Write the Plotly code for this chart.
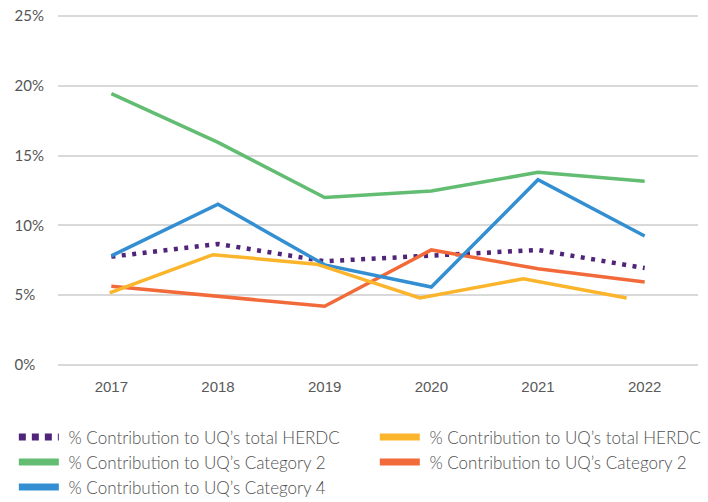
import plotly.graph_objects as go

years = ["2017", "2018", "2019", "2020", "2021", "2022"]
y_ticks = [0, 0.05, 0.10, 0.15, 0.20, 0.25]
y_tick_labels = ["0%\u2007", "5%\u2007", "10%", "15%", "20%", "25%"]

purple_total = [0.0776, 0.0867, 0.0743, 0.0786, 0.0824, 0.0694]
yellow_total = [0.0516, 0.0790, 0.0722, 0.0480, 0.0617, 0.0480]
green_cat2 = [0.1945, 0.1595, 0.1200, 0.1246, 0.1380, 0.1316]
orange_cat2 = [0.0563, 0.0492, 0.0420, 0.0824, 0.0689, 0.0594]
blue_cat4 = [0.0781, 0.1152, 0.0717, 0.0558, 0.1327, 0.0924]

label_total = "% Contribution to UQ\u2019s total HERDC"
label_cat2 = "% Contribution to UQ\u2019s Category 2"
label_cat4 = "% Contribution to UQ\u2019s Category 4"

PURPLE = "#4f2479"
YELLOW = "#fbb52c"
GREEN = "#62bd72"
ORANGE = "#f26a3a"
BLUE = "#338fd1"

series = [
    (purple_total, label_total, PURPLE, "x", "legend", True),
    (yellow_total, label_total, YELLOW, "x2", "legend2", False),
    (green_cat2, label_cat2, GREEN, "x", "legend", False),
    (orange_cat2, label_cat2, ORANGE, "x", "legend2", False),
    (blue_cat4, label_cat4, BLUE, "x", "legend", False),
]

fig = go.Figure()
for vals, name, color, xa, leg, dotted in series:
    fig.add_trace(go.Scatter(
        x=years, y=vals, name=name, mode="lines", xaxis=xa, showlegend=False,
        line=dict(color=color, width=4.5 if dotted else 3.5,
                  dash="4px,6.5px" if dotted else "solid")))
    # legend entry with a thicker key line
    fig.add_trace(go.Scatter(
        x=[None], y=[None], name="\u00a0" + name, mode="lines", legend=leg,
        line=dict(color=color, width=7, dash="7px,6px" if dotted else "solid")))

legend_font = dict(family="Lato", size=17, color="#505050", weight=300)

fig.update_layout(
    width=708, height=502,
    margin=dict(l=58, r=10, t=15, b=136, autoexpand=False),
    paper_bgcolor="white", plot_bgcolor="white",
    font=dict(family="Lato", color="#555555", size=15),
    xaxis=dict(type="category", categoryorder="array", categoryarray=years,
               range=[-0.5, 5.5], showgrid=False, zeroline=False,
               showline=False, ticks="", ticklabelstandoff=10,
               tickfont=dict(family="Liberation Sans", size=15, color="#595959")),
    xaxis2=dict(type="category", categoryorder="array", categoryarray=years,
                overlaying="x", range=[-0.5, 5.69], visible=False),
    yaxis=dict(range=[-0.0008, 0.2508], tickvals=y_ticks, ticktext=y_tick_labels,
               showgrid=True, gridcolor="#d9d9d9", gridwidth=2,
               zeroline=False, showline=False, ticks="",
               ticklabelstandoff=13,
               tickfont=dict(family="Lato", size=15, color="#555555")),
    showlegend=True,
    legend=dict(orientation="v", x=-0.069, xanchor="left", y=-0.152, yanchor="top",
                traceorder="normal", font=legend_font, itemwidth=40,
                bgcolor="rgba(0,0,0,0)", tracegroupgap=0),
    legend2=dict(orientation="v", x=0.495, xanchor="left", y=-0.152, yanchor="top",
                 traceorder="normal", font=legend_font, itemwidth=40,
                 bgcolor="rgba(0,0,0,0)", tracegroupgap=0),
)

fig.write_html("out.html", config={"displayModeBar": False},
               post_script="document.body.style.margin='0';")
